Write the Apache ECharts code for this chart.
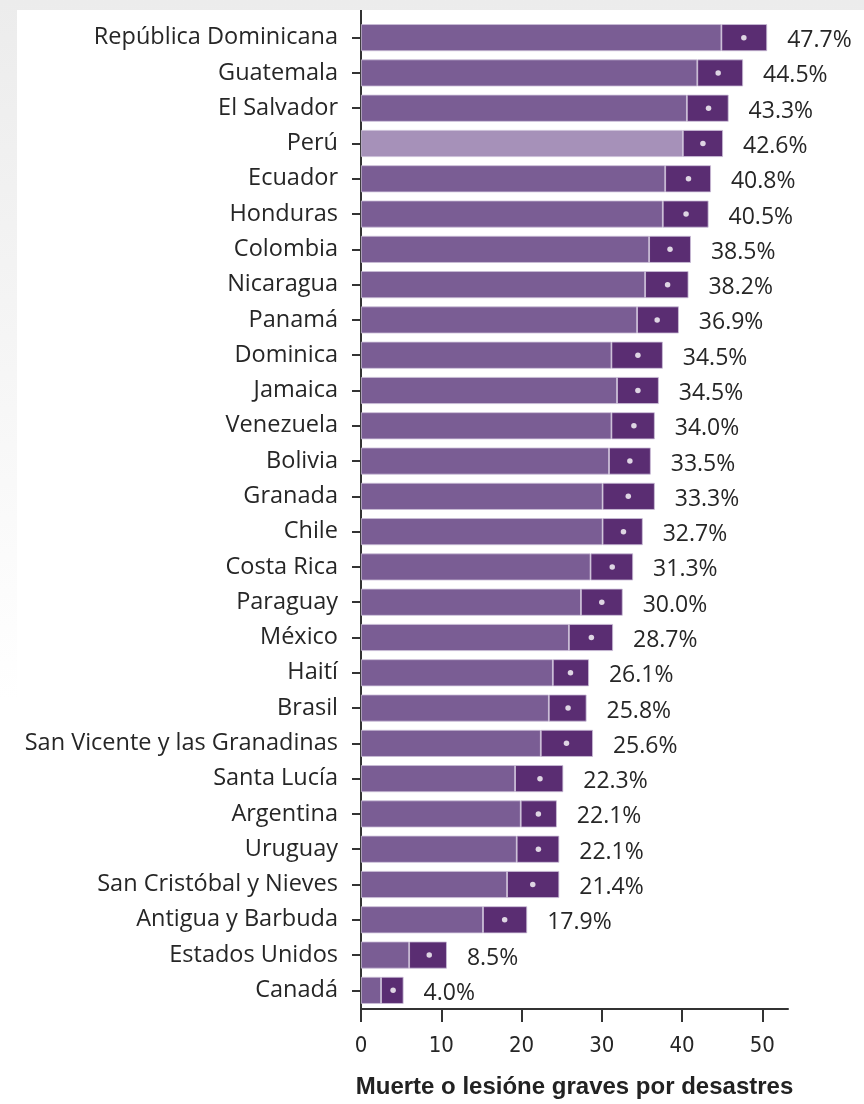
<!DOCTYPE html>
<html lang="es">
<head>
    <meta charset="UTF-8">
    <title>Muerte o lesión grave por desastres</title>
    <script src="https://cdn.jsdelivr.net/npm/echarts@6/dist/echarts.min.js"></script>
    <style>
        body {
            margin: 0;
            height: 1104px;
            background: linear-gradient(to bottom, #ececec 0px, #f4f4f4 300px, #ffffff 700px);
        }
        #chart {
            position: absolute;
            left: 17px;
            top: 10px;
            width: 847px;
            height: 1094px;
            background: #fff;
        }
    </style>
</head>
<body>
    <div id="chart"></div>
    <script>
        // datos
        const countries = ['República Dominicana', 'Guatemala', 'El Salvador', 'Perú', 'Ecuador', 'Honduras',
            'Colombia', 'Nicaragua', 'Panamá', 'Dominica', 'Jamaica', 'Venezuela', 'Bolivia', 'Granada', 'Chile',
            'Costa Rica', 'Paraguay', 'México', 'Haití', 'Brasil', 'San Vicente y las Granadinas', 'Santa Lucía',
            'Argentina', 'Uruguay', 'San Cristóbal y Nieves', 'Antigua y Barbuda', 'Estados Unidos', 'Canadá'];
        const estimates = [47.7, 44.5, 43.3, 42.6, 40.8, 40.5, 38.5, 38.2, 36.9, 34.5, 34.5, 34.0, 33.5, 33.3, 32.7,
            31.3, 30.0, 28.7, 26.1, 25.8, 25.6, 22.3, 22.1, 22.1, 21.4, 17.9, 8.5, 4.0];
        const lower = [44.9, 41.9, 40.6, 40.1, 37.9, 37.6, 35.9, 35.4, 34.4, 31.2, 31.9, 31.2, 30.9, 30.1, 30.1,
            28.6, 27.4, 25.9, 23.9, 23.4, 22.4, 19.2, 19.9, 19.4, 18.2, 15.2, 6.0, 2.5];
        const upper = [50.6, 47.6, 45.8, 45.1, 43.6, 43.3, 41.1, 40.8, 39.6, 37.6, 37.1, 36.6, 36.1, 36.6, 35.1,
            33.9, 32.6, 31.4, 28.4, 28.1, 28.9, 25.2, 24.4, 24.7, 24.7, 20.7, 10.7, 5.3];
        const xTicks = [0, 10, 20, 30, 40, 50];
        const highlight = 'Perú';

        const baseColor = '#7a5d94';
        const highColor = '#a691b9';
        const ciColor = '#5a2d72';
        const textColor = '#262626';

        var myChart = echarts.init(document.getElementById('chart'));

        let baseData = countries.map(function (c, i) {
            return { value: lower[i], itemStyle: { color: c === highlight ? highColor : baseColor } };
        });
        let ciData = countries.map(function (c, i) {
            return +(upper[i] - lower[i]).toFixed(2);
        });

        var option = {
            animation: false,
            grid: [
                { left: 344, right: 76, top: 10, bottom: 96 },   // barras
                { left: 344, right: 76, top: 0, bottom: 87 }     // marco de ejes
            ],
            xAxis: [
                { gridIndex: 0, type: 'value', min: 0, max: 53.2, show: false },
                {
                    gridIndex: 1, type: 'value', min: 0, max: 53.2,
                    axisLine: { show: true, lineStyle: { color: '#333', width: 2 } },
                    axisTick: { show: true, customValues: xTicks, length: 13, lineStyle: { color: '#333', width: 2 } },
                    axisLabel: {
                        customValues: xTicks, margin: 26,
                        fontFamily: '"DejaVu Sans Condensed", "Liberation Sans Narrow", sans-serif',
                        fontSize: 22, color: textColor
                    },
                    splitLine: { show: false },
                    name: 'Muerte o lesióne graves por desastres',
                    nameLocation: 'middle',
                    nameGap: 66,
                    nameTextStyle: {
                        fontFamily: '"Liberation Sans", Arial, sans-serif',
                        fontWeight: 'bold', fontSize: 24, color: '#222'
                    }
                }
            ],
            yAxis: [
                {
                    gridIndex: 0, type: 'category', data: countries, inverse: true,
                    axisLine: { show: false },
                    axisTick: { show: true, alignWithLabel: true, length: 9, lineStyle: { color: '#333', width: 2 } },
                    axisLabel: {
                        margin: 23, fontFamily: '"Open Sans", sans-serif', fontSize: 23.5, color: textColor
                    }
                },
                {
                    gridIndex: 1, type: 'value', min: 0, max: 1,
                    axisLine: { show: true, lineStyle: { color: '#333', width: 2 } },
                    axisTick: { show: false },
                    axisLabel: { show: false },
                    splitLine: { show: false }
                }
            ],
            series: [
                {
                    type: 'bar', xAxisIndex: 0, yAxisIndex: 0, stack: 'ci',
                    barWidth: 27,
                    itemStyle: { borderColor: '#cbbfd8', borderWidth: 0.8 },
                    data: baseData
                },
                {
                    type: 'bar', xAxisIndex: 0, yAxisIndex: 0, stack: 'ci',
                    barWidth: 27,
                    itemStyle: { color: ciColor, borderColor: '#cbbfd8', borderWidth: 0.8 },
                    label: {
                        show: true, position: 'right', distance: 20, offset: [0, 3],
                        fontFamily: '"Open Sans", sans-serif', fontSize: 23, color: textColor,
                        formatter: function (p) { return estimates[p.dataIndex].toFixed(1) + '%'; }
                    },
                    data: ciData
                },
                {
                    type: 'scatter', xAxisIndex: 0, yAxisIndex: 0,
                    symbol: 'circle', symbolSize: 5.5,
                    itemStyle: { color: '#ffffff' },
                    z: 5,
                    data: countries.map(function (c, i) { return [estimates[i], c]; })
                }
            ]
        };
        myChart.setOption(option);
    </script>
</body>
</html>
